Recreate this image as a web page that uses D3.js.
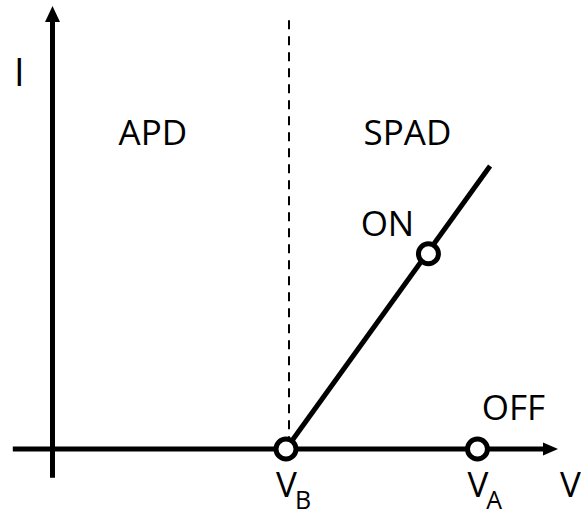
<!DOCTYPE html>
<html lang="en">
<head>
<meta charset="UTF-8">
<script src="https://d3js.org/d3.v7.min.js"></script>
<style>
  body { margin: 0; background: white; }
  text { font-family: "Open Sans", sans-serif; fill: black; }
</style>
</head>
<body>
<div id="chart"></div>
<script>
// Data (abstract units: V normalised to breakdown voltage, I to line top)
const axisV = [-0.17, 2.165];          // horizontal axis extent
const axisI = [-0.102, 1.565];         // vertical axis extent
const breakdownV = 1.0;                // V_B
const dashTopI = 1.515;
const slopeLine = [[1.0, 0], [1.874, 1.0]];
const markers = [
  { v: 1.0, i: 0 },
  { v: 1.82, i: 0, label: "OFF" },
  { v: 1.61, i: 0.69, label: "ON" }
];
const regions = [
  { label: "APD", v: 0.43 },
  { label: "SPAD", v: 1.52 }
];
const voltLabels = [
  { name: "V", sub: "B", v: 1.0 },
  { name: "V", sub: "A", v: 1.82 }
];

const width = 581, height = 517;

const x = d3.scaleLinear().domain([0, 1]).range([52.5, 286]);
const y = d3.scaleLinear().domain([0, 1]).range([449, 166]);

const svg = d3.select("#chart").append("svg")
  .attr("width", width)
  .attr("height", height);

// Axes
svg.append("line")
  .attr("x1", x(axisV[0])).attr("x2", x(axisV[1]) - 10)
  .attr("y1", y(0)).attr("y2", y(0))
  .attr("stroke", "black").attr("stroke-width", 5);
svg.append("path")
  .attr("d", `M${x(axisV[1])},${y(0)} L${x(axisV[1]) - 15},${y(0) - 6.5} L${x(axisV[1]) - 15},${y(0) + 6.5} Z`)
  .attr("fill", "black");

svg.append("line")
  .attr("x1", x(0)).attr("x2", x(0))
  .attr("y1", y(axisI[0])).attr("y2", y(axisI[1]) + 10)
  .attr("stroke", "black").attr("stroke-width", 5);
svg.append("path")
  .attr("d", `M${x(0)},${y(axisI[1])} L${x(0) - 7.5},${y(axisI[1]) + 16} L${x(0) + 7.5},${y(axisI[1]) + 16} Z`)
  .attr("fill", "black");

// Breakdown dashed line
svg.append("line")
  .attr("x1", x(breakdownV) + 3).attr("x2", x(breakdownV) + 3)
  .attr("y1", y(dashTopI)).attr("y2", y(0))
  .attr("stroke", "black").attr("stroke-width", 2)
  .attr("stroke-dasharray", "9,7");

// SPAD line
svg.append("path")
  .attr("d", d3.line().x(d => x(d[0])).y(d => y(d[1]))(slopeLine))
  .attr("stroke", "black").attr("stroke-width", 5).attr("fill", "none");

// Markers
svg.selectAll(".marker")
  .data(markers)
  .enter().append("circle")
  .attr("class", "marker")
  .attr("cx", d => x(d.v)).attr("cy", d => y(d.i))
  .attr("r", 10)
  .attr("fill", "white").attr("stroke", "black").attr("stroke-width", 5);

// Marker labels
const markerText = markers.filter(d => d.label);
svg.selectAll(".mlabel")
  .data(markerText)
  .enter().append("text")
  .attr("class", "mlabel")
  .attr("x", d => d.label === "ON" ? x(d.v) - 41 : x(d.v) + 36)
  .attr("y", d => d.label === "ON" ? y(d.i) - 18 : y(d.i) - 29)
  .attr("text-anchor", "middle")
  .attr("font-size", 35)
  .text(d => d.label);

// Region labels
svg.selectAll(".region")
  .data(regions)
  .enter().append("text")
  .attr("class", "region")
  .attr("x", d => x(d.v))
  .attr("y", 145)
  .attr("text-anchor", "middle")
  .attr("font-size", 35)
  .text(d => d.label);

// Voltage labels
const vl = svg.selectAll(".vlabel")
  .data(voltLabels)
  .enter().append("text")
  .attr("class", "vlabel")
  .attr("x", d => x(d.v) - 10)
  .attr("y", 497)
  .attr("font-size", 35);
vl.append("tspan").text(d => d.name);
vl.append("tspan")
  .attr("dy", 12)
  .attr("dx", -2)
  .attr("font-size", 25)
  .text(d => d.sub);

// Axis titles
svg.append("text")
  .attr("x", x(axisV[1]) + 2)
  .attr("y", 497)
  .attr("font-size", 35)
  .text("V");
svg.append("text")
  .attr("x", 14)
  .attr("y", 86)
  .attr("font-size", 38)
  .text("I");
</script>
</body>
</html>
